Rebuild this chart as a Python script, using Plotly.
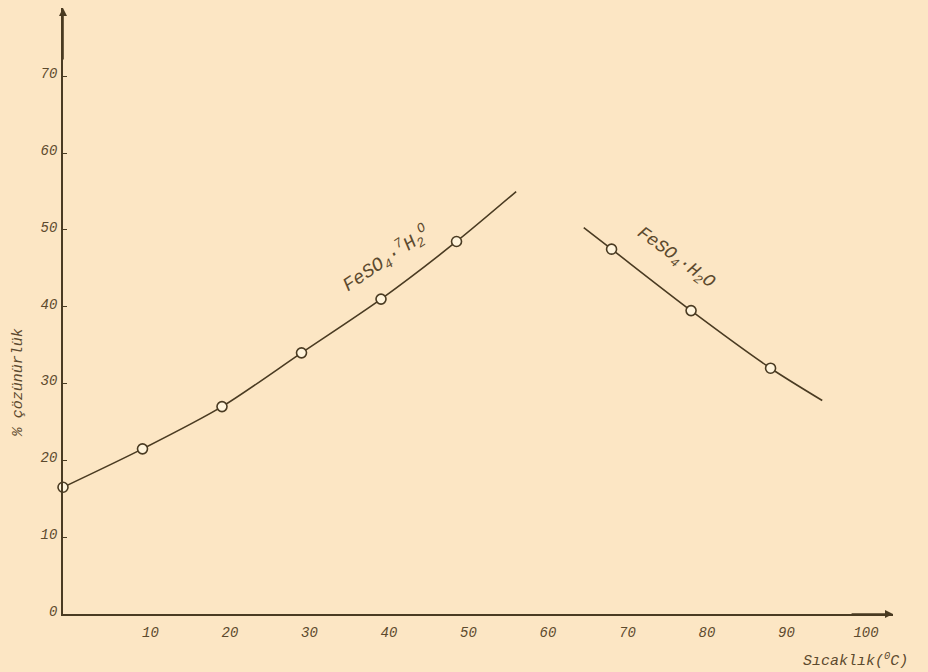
import plotly.graph_objects as go

# Data
hepta_T = [0, 10, 20, 30, 40, 49.5]
hepta_S = [16.5, 21.5, 27.0, 34.0, 41.0, 48.5]
hepta_curve_T = [0, 10, 20, 30, 40, 49.5, 57]
hepta_curve_S = [16.5, 21.5, 27.0, 34.0, 41.0, 48.5, 55.0]

mono_T = [69, 79, 89]
mono_S = [47.5, 39.5, 32.0]
mono_curve_T = [65.5, 69, 79, 89, 95.5]
mono_curve_S = [50.3, 47.5, 39.5, 32.0, 27.8]

x_ticks = [10, 20, 30, 40, 50, 60, 70, 80, 90, 100]
y_ticks = [0, 10, 20, 30, 40, 50, 60, 70]

ink = "#4a3b22"
txt = "#5c4a2e"
bg = "#fce6c4"
font = "Liberation Mono"

fig = go.Figure()
for ct, cs in [(hepta_curve_T, hepta_curve_S), (mono_curve_T, mono_curve_S)]:
    fig.add_trace(go.Scatter(x=ct, y=cs, mode="lines",
                             line=dict(color=ink, width=1.6, shape="spline", smoothing=0.8),
                             hoverinfo="skip", showlegend=False))
for pt, ps in [(hepta_T, hepta_S), (mono_T, mono_S)]:
    fig.add_trace(go.Scatter(x=pt, y=ps, mode="markers",
                             marker=dict(symbol="circle", size=10, color="#fff4dc",
                                         line=dict(color=ink, width=1.6)),
                             showlegend=False, cliponaxis=False))

fig.update_layout(
    width=928, height=672,
    paper_bgcolor=bg, plot_bgcolor=bg,
    margin=dict(l=63, r=35, t=8, b=58),
    font=dict(family=font, color=txt, size=14),
    xaxis=dict(range=[0, 104.4], tickvals=x_ticks, ticktext=[f"<i>{v}</i>" for v in x_ticks],
               showgrid=False, zeroline=False, showline=True, linecolor=ink, linewidth=1.8,
               ticks="", tickfont=dict(family=font, size=14, color=txt),
               ticklabelshift=8, ticklabelstandoff=4),
    yaxis=dict(range=[0, 78.9], tickvals=y_ticks, ticktext=[f"<i>{v}</i>" for v in y_ticks],
               showgrid=False, zeroline=False, showline=True, linecolor=ink, linewidth=1.8,
               ticks="inside", ticklen=4, tickcolor=ink,
               tickfont=dict(family=font, size=14, color=txt),
               ticklabelshift=-3, ticklabelstandoff=1),
)

# axis arrows
fig.add_annotation(x=0, y=78.9, ax=0, ay=72, xref="x", yref="y", axref="x", ayref="y",
                   showarrow=True, arrowhead=2, arrowsize=1, arrowwidth=1.6, arrowcolor=ink, text="")
fig.add_annotation(x=104.4, y=0, ax=99, ay=0, xref="x", yref="y", axref="x", ayref="y",
                   showarrow=True, arrowhead=2, arrowsize=1, arrowwidth=1.6, arrowcolor=ink, text="")

# labels
fig.add_annotation(x=-0.054, y=0.381, xref="paper", yref="paper", xanchor="center", yanchor="middle",
                   text="<i>% çözünürlük</i>",
                   showarrow=False, textangle=-90, font=dict(family=font, size=15, color=txt))
fig.add_annotation(xref="paper", yref="paper", x=0.955, y=-0.076, xanchor="center", yanchor="middle",
                   text="<i>Sıcaklık(<sup>0</sup>C)</i>", showarrow=False,
                   font=dict(family=font, size=15, color=txt))
fig.add_annotation(x=40.6, y=46.2, xref="x", yref="y", text="<i>FeSO<sub>4</sub>·<sup>7</sup>H<sub>2</sub><sup>O</sup></i>",
                   showarrow=False, textangle=-34, font=dict(family=font, size=19, color=txt))
fig.add_annotation(x=77.0, y=46.3, xref="x", yref="y", text="<i>FeSO<sub>4</sub>·H<sub>2</sub>O</i>",
                   showarrow=False, textangle=36, font=dict(family=font, size=18, color=txt))

fig.write_html("out.html", config={"displayModeBar": False},
               post_script="document.body.style.margin='0';")
